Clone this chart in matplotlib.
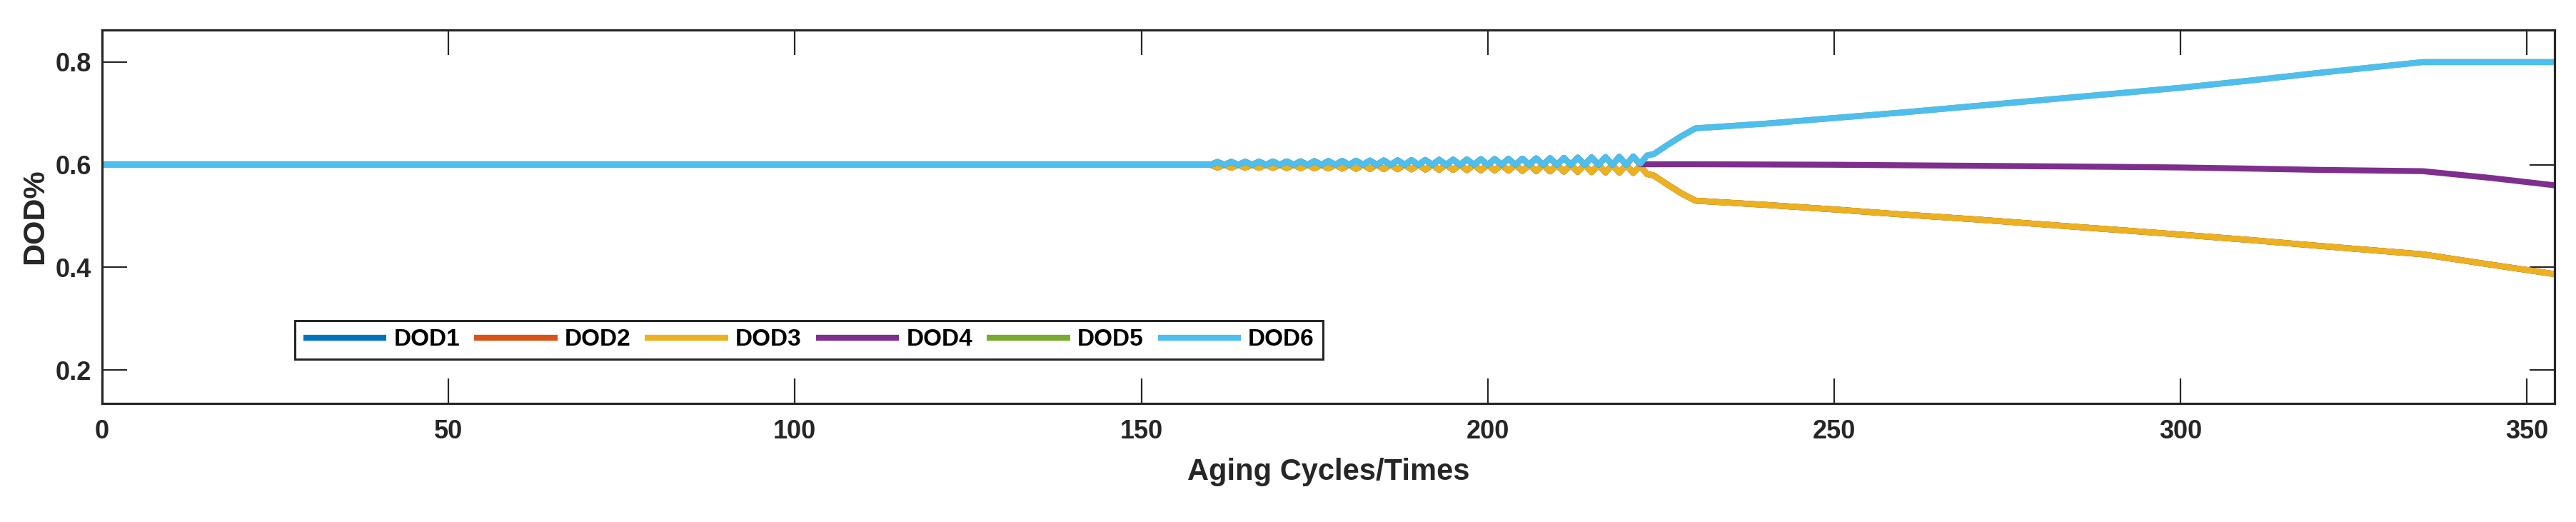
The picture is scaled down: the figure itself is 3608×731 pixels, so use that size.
import matplotlib
matplotlib.use("Agg")
import matplotlib.pyplot as plt

# ---------------- data ----------------
cycles = [0, 160, 161, 162, 163, 164, 165, 166, 167, 168, 169, 170, 171, 172, 173, 174,
          175, 176, 177, 178, 179, 180, 181, 182, 183, 184, 185, 186, 187, 188, 189,
          190, 191, 192, 193, 194, 195, 196, 197, 198, 199, 200, 201, 202, 203, 204,
          205, 206, 207, 208, 209, 210, 211, 212, 213, 214, 215, 216, 217, 218, 219,
          220, 221, 222, 223, 224, 226, 228, 230, 240, 250, 260, 270, 280, 290, 300,
          310, 320, 335, 345, 354]

dod6 = [0.600, 0.600, 0.6055, 0.600, 0.6057, 0.600, 0.6059, 0.600, 0.6061, 0.600, 0.6063,
        0.600, 0.6066, 0.600, 0.6068, 0.600, 0.6071, 0.600, 0.6073, 0.600, 0.6076, 0.600,
        0.6079, 0.600, 0.6082, 0.600, 0.6085, 0.600, 0.6088, 0.600, 0.6091, 0.600, 0.6094,
        0.600, 0.6098, 0.600, 0.6101, 0.600, 0.6105, 0.600, 0.6109, 0.600, 0.6112, 0.600,
        0.6116, 0.600, 0.6120, 0.600, 0.6125, 0.600, 0.6129, 0.600, 0.6134, 0.600, 0.6139,
        0.600, 0.6144, 0.600, 0.6149, 0.600, 0.6154, 0.600, 0.6160, 0.602, 0.618, 0.621,
        0.639, 0.656, 0.671, 0.680, 0.691, 0.702, 0.714, 0.726, 0.738, 0.750, 0.764, 0.779,
        0.800, 0.800, 0.800]

dod3 = [0.600, 0.600, 0.5945, 0.600, 0.5943, 0.600, 0.5941, 0.600, 0.5939, 0.600, 0.5937,
        0.600, 0.5934, 0.600, 0.5932, 0.600, 0.5929, 0.600, 0.5927, 0.600, 0.5924, 0.600,
        0.5921, 0.600, 0.5918, 0.600, 0.5915, 0.600, 0.5912, 0.600, 0.5909, 0.600, 0.5906,
        0.600, 0.5902, 0.600, 0.5899, 0.600, 0.5895, 0.600, 0.5891, 0.600, 0.5888, 0.600,
        0.5884, 0.600, 0.5880, 0.600, 0.5875, 0.600, 0.5871, 0.600, 0.5866, 0.600, 0.5861,
        0.600, 0.5856, 0.600, 0.5851, 0.600, 0.5846, 0.600, 0.5840, 0.598, 0.582, 0.579,
        0.561, 0.544, 0.530, 0.522, 0.513, 0.503, 0.494, 0.484, 0.474, 0.464, 0.4535, 0.442,
        0.4255, 0.405, 0.387]

dod4 = [0.600, 0.600, 0.6055, 0.600, 0.6057, 0.600, 0.6059, 0.600, 0.6061, 0.600, 0.6063,
        0.600, 0.6066, 0.600, 0.6068, 0.600, 0.6071, 0.600, 0.6073, 0.600, 0.6076, 0.600,
        0.6079, 0.600, 0.6082, 0.600, 0.6085, 0.600, 0.6088, 0.600, 0.6091, 0.600, 0.6094,
        0.600, 0.6098, 0.600, 0.6101, 0.600, 0.6105, 0.600, 0.6109, 0.600, 0.6112, 0.600,
        0.6116, 0.600, 0.6120, 0.600, 0.6125, 0.600, 0.6129, 0.600, 0.6134, 0.600, 0.6139,
        0.600, 0.6144, 0.600, 0.6149, 0.600, 0.6154, 0.600, 0.6160, 0.601, 0.601, 0.601,
        0.601, 0.601, 0.601, 0.6005, 0.600, 0.599, 0.598, 0.597, 0.596, 0.5947, 0.5925,
        0.590, 0.5875, 0.574, 0.560]

# DOD1 / DOD2 coincide with DOD3 and DOD5 with DOD6 (hidden beneath them in the figure)
dod1 = list(dod3)
dod2 = list(dod3)
dod5 = list(dod6)

series_names = ["DOD1", "DOD2", "DOD3", "DOD4", "DOD5", "DOD6"]
series_values = [dod1, dod2, dod3, dod4, dod5, dod6]
colors = ["#0072BD", "#D95319", "#EDB120", "#7E2F8E", "#77AC30", "#4DBEEE"]

x_ticks = [0, 50, 100, 150, 200, 250, 300, 350]
y_ticks = [0.2, 0.4, 0.6, 0.8]
y_tick_labels = ["0.2", "0.4", "0.6", "0.8"]

# ---------------- figure ----------------
plt.rcParams["font.family"] = ["Liberation Sans", "DejaVu Sans"]
plt.rcParams["font.weight"] = "bold"

W, H, DPI = 3608, 731, 100
fig = plt.figure(figsize=(W / DPI, H / DPI), dpi=DPI)
ax_l, ax_r, ax_t, ax_b = 143, 3578, 42, 565
ax = fig.add_axes([ax_l / W, 1 - ax_b / H, (ax_r - ax_l) / W, (ax_b - ax_t) / H])

dark = "#262626"
for name, vals, c in zip(series_names, series_values, colors):
    ax.plot(cycles, vals, color=c, lw=6, label=name, solid_capstyle="butt")

ax.set_xlim(0, 354)
ax.set_ylim(0.135, 0.8625)
ax.set_xticks(x_ticks)
ax.set_yticks(y_ticks)
ax.set_yticklabels(y_tick_labels)

for sp in ax.spines.values():
    sp.set_linewidth(2.3)
    sp.set_color(dark)

ax.tick_params(axis="both", direction="in", length=25, width=1.6, color=dark,
               labelcolor=dark, labelsize=26, top=True, right=True)
ax.tick_params(axis="x", pad=16)
ax.tick_params(axis="y", pad=11)
for lab in ax.get_xticklabels() + ax.get_yticklabels():
    lab.set_fontweight("bold")

ax.set_xlabel("Aging Cycles/Times", fontsize=30, fontweight="bold", color=dark)
ax.set_ylabel("DOD%", fontsize=31, fontweight="bold", color=dark)
ax.xaxis.set_label_coords(0.5, -0.145)
ax.yaxis.set_label_coords(-0.0215, 0.5)

leg_x = (413 - ax_l) / (ax_r - ax_l)
leg_y = (ax_b - 503) / (ax_b - ax_t)
leg = ax.legend(loc="lower left", bbox_to_anchor=(leg_x, leg_y), ncol=6,
                frameon=True, fancybox=False, borderaxespad=0,
                prop={"size": 24, "weight": "bold"},
                handlelength=3.5, handletextpad=0.3, columnspacing=0.6,
                borderpad=0.35)
leg.get_frame().set_edgecolor(dark)
leg.get_frame().set_linewidth(2.2)
leg.get_frame().set_alpha(1)
for t in leg.get_texts():
    t.set_color("black")

fig.savefig("out.png", dpi=DPI)
